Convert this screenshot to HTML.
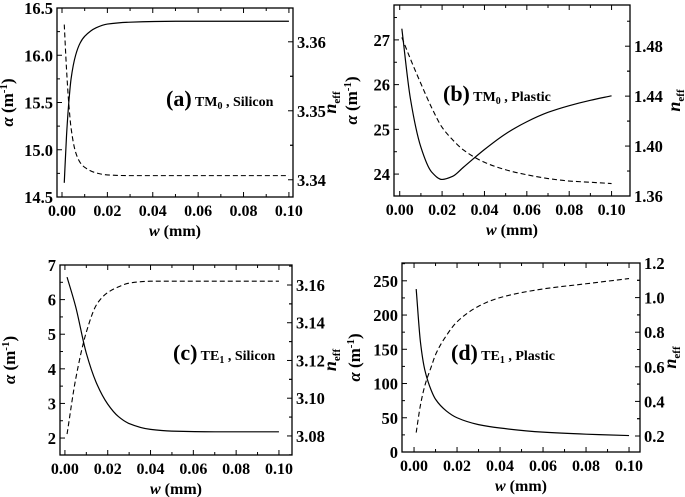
<!DOCTYPE html>
<html><head><meta charset="utf-8"><style>
html,body{margin:0;padding:0;background:#fff;}
svg{display:block;font-family:"Liberation Serif",serif;font-weight:bold;}
</style></head><body>
<svg id="fig" width="685" height="497" viewBox="0 0 685 497" xmlns="http://www.w3.org/2000/svg"></svg>
<script>
// Panel (a) TM0 Silicon
const aW=[0.001,0.002,0.003,0.004,0.006,0.008,0.01,0.015,0.02,0.03,0.05,0.07,0.1];
const aAlpha=[14.65,15.15,15.5,15.75,16.0,16.13,16.2,16.29,16.33,16.35,16.36,16.36,16.36];
const aNeff=[3.3625,3.356,3.351,3.3475,3.344,3.3425,3.3418,3.341,3.3407,3.3406,3.3406,3.3406,3.3406];
// Panel (b) TM0 Plastic
const bW=[0.001,0.005,0.01,0.015,0.02,0.025,0.03,0.04,0.05,0.06,0.07,0.08,0.09,0.1];
const bAlpha=[27.25,25.7,24.6,24.05,23.88,23.95,24.15,24.55,24.9,25.17,25.38,25.53,25.65,25.75];
const bNeff=[1.487,1.47,1.45,1.431,1.415,1.405,1.397,1.387,1.381,1.377,1.374,1.372,1.371,1.370];
// Panel (c) TE1 Silicon
const cW=[0.001,0.005,0.01,0.015,0.02,0.025,0.03,0.04,0.05,0.07,0.1];
const cAlpha=[6.65,5.8,4.45,3.55,2.98,2.62,2.42,2.25,2.2,2.18,2.18];
const cNeff=[3.081,3.11,3.135,3.15,3.156,3.159,3.161,3.162,3.162,3.162,3.162];
// Panel (d) TE1 Plastic
const dW=[0.001,0.003,0.005,0.008,0.01,0.015,0.02,0.03,0.04,0.06,0.08,0.1];
const dAlpha=[238,160,120,90,77,60,50,40,35,29,26,24];
const dNeff=[0.22,0.38,0.49,0.6,0.67,0.78,0.86,0.95,1.0,1.05,1.08,1.11];
// tick labels
const xTicks=[0,0.02,0.04,0.06,0.08,0.1];
const xTickLabels=["0.00","0.02","0.04","0.06","0.08","0.10"];
const aLT=[14.5,15.0,15.5,16.0,16.5], aLL=["14.5","15.0","15.5","16.0","16.5"];
const aRT=[3.34,3.35,3.36], aRL=["3.34","3.35","3.36"];
const bLT=[24,25,26,27], bLL=["24","25","26","27"];
const bRT=[1.36,1.40,1.44,1.48], bRL=["1.36","1.40","1.44","1.48"];
const cLT=[2,3,4,5,6,7], cLL=["2","3","4","5","6","7"];
const cRT=[3.08,3.10,3.12,3.14,3.16], cRL=["3.08","3.10","3.12","3.14","3.16"];
const dLT=[0,50,100,150,200,250], dLL=["0","50","100","150","200","250"];
const dRT=[0.2,0.4,0.6,0.8,1.0,1.2], dRL=["0.2","0.4","0.6","0.8","1.0","1.2"];

const NS="http://www.w3.org/2000/svg";
const svg=document.getElementById('fig');
function mk(tag,attrs,parent){const e=document.createElementNS(NS,tag);for(const k in attrs)e.setAttribute(k,attrs[k]);(parent||svg).appendChild(e);return e;}
function lin(d0,d1,r0,r1){return v=>r0+(v-d0)*(r1-r0)/(d1-d0);}
function smooth(p){const n=p.length,dx=[],m=[],t=new Array(n);
 for(let i=0;i<n-1;i++){dx.push(p[i+1][0]-p[i][0]);m.push((p[i+1][1]-p[i][1])/dx[i]);}
 t[0]=m[0];t[n-1]=m[n-2];
 for(let i=1;i<n-1;i++){if(m[i-1]*m[i]<=0)t[i]=0;else{const w1=2*dx[i]+dx[i-1],w2=dx[i]+2*dx[i-1];t[i]=(w1+w2)/(w1/m[i-1]+w2/m[i]);}}
 let d="M"+p[0][0].toFixed(2)+","+p[0][1].toFixed(2);
 for(let i=0;i<n-1;i++){const h=dx[i]/3;
  d+="C"+(p[i][0]+h).toFixed(2)+","+(p[i][1]+t[i]*h).toFixed(2)+" "+(p[i+1][0]-h).toFixed(2)+","+(p[i+1][1]-t[i+1]*h).toFixed(2)+" "+p[i+1][0].toFixed(2)+","+p[i+1][1].toFixed(2);}
 return d;}
function panel(id,box,xd,yl,yr,W,A,N,lT,lL,lMinor,rT,rL,rMinor,lOff,rOff,lx,ly){
 const g=mk('g',{});
 
 
 const X=lin(xd[0],xd[1],box.l,box.r),YL=lin(yl[0],yl[1],box.b,box.t),YR=lin(yr[0],yr[1],box.b,box.t);
 const fr=mk('rect',{x:box.l,y:box.t,width:box.r-box.l,height:box.b-box.t,fill:'none',stroke:'#000','stroke-width':1.3},g);
 
 
 xTicks.forEach((v,i)=>{const x=X(v);mk('line',{x1:x,x2:x,y1:box.b,y2:box.b-5,stroke:'#000'},g);mk('line',{x1:x,x2:x,y1:box.t,y2:box.t+5,stroke:'#000'},g);
  const t=mk('text',{x:x,y:box.b+19,'text-anchor':'middle','font-size':16},g);t.textContent=xTickLabels[i];
  
  
  if(i<xTicks.length-1){const xm=X(v+0.01);mk('line',{x1:xm,x2:xm,y1:box.b,y2:box.b-3,stroke:'#000'},g);mk('line',{x1:xm,x2:xm,y1:box.t,y2:box.t+3,stroke:'#000'},g);}});
 lT.forEach((v,i)=>{const y=YL(v);mk('line',{x1:box.l,x2:box.l+5,y1:y,y2:y,stroke:'#000'},g);
  const t=mk('text',{x:box.l-4,y:y+6,'text-anchor':'end','font-size':16.5},g);t.textContent=lL[i];
  
  
  const ym=YL(v+lMinor);if(ym>box.t)mk('line',{x1:box.l,x2:box.l+3,y1:ym,y2:ym,stroke:'#000'},g);});
 rT.forEach((v,i)=>{const y=YR(v);mk('line',{x1:box.r,x2:box.r-5,y1:y,y2:y,stroke:'#000'},g);
  const t=mk('text',{x:box.r+4,y:y+6,'text-anchor':'start','font-size':16.5},g);t.textContent=rL[i];
  
  
  [v+rMinor,v-rMinor].forEach(m=>{const ym=YR(m);if(ym>box.t&&ym<box.b)mk('line',{x1:box.r,x2:box.r-3,y1:ym,y2:ym,stroke:'#000'},g);});});
 const xt=mk('text',{x:(box.l+box.r)/2,y:box.b+39,'text-anchor':'middle','font-size':16},g);
 xt.innerHTML='<tspan font-style="italic">w</tspan> (mm)';
 
 
 const cy=(box.t+box.b)/2;
 const yt=mk('text',{x:0,y:0,'text-anchor':'middle','font-size':17,transform:`translate(${box.l-lOff},${cy}) rotate(-90)`},g);
 yt.innerHTML='<tspan font-style="italic">α</tspan> (m<tspan font-size="11" dy="-6">-1</tspan><tspan dy="6">)</tspan>';
 
 
 const rt=mk('text',{x:0,y:0,'text-anchor':'middle','font-size':18,transform:`translate(${box.r+rOff},${cy}) rotate(-90)`},g);
 rt.innerHTML='<tspan font-style="italic">n</tspan><tspan font-size="11" dy="4">eff</tspan>';
 
 
 const s=mk('path',{d:smooth(W.map((w,i)=>[X(w),YL(A[i])])),fill:'none',stroke:'#000','stroke-width':1.2},g);
 
 
 const n=mk('path',{d:smooth(W.map((w,i)=>[X(w),YR(N[i])])),fill:'none',stroke:'#000','stroke-width':1.1,'stroke-dasharray':'5,3'},g);
 
 
 const an=mk('text',{x:lx,y:ly,'font-size':14},g);
 
 
 return an;}
const A1=panel('a',{l:57,r:293,t:8,b:197},[-0.0022,0.1018],[14.5,16.5],[3.3375,3.3649],aW,aAlpha,aNeff,aLT,aLL,0.25,aRT,aRL,0.005,44,43,166,106);
const A2=panel('b',{l:394,r:630,t:5,b:196},[-0.0027,0.1087],[23.51,27.78],[1.36,1.513],bW,bAlpha,bNeff,bLT,bLL,0.5,bRT,bRL,0.02,37,50,443,101);
const A3=panel('c',{l:60,r:292,t:265,b:455},[-0.0023,0.1061],[1.51,7],[3.0699,3.1706],cW,cAlpha,cNeff,cLT,cLL,0.5,cRT,cRL,0.01,45,44,173,360);
const A4=panel('d',{l:402,r:640,t:263,b:452},[-0.0056,0.1051],[0,276],[0.1075,1.2],dW,dAlpha,dNeff,dLT,dLL,25,dRT,dRL,0.1,42,36,451,360);
function setAnn(el,l,m,s,matName){el.innerHTML=`<tspan font-size="22">(${l})</tspan><tspan font-size="14"> ${m}</tspan><tspan font-size="10" dy="3">${s}</tspan><tspan font-size="14" dy="-3"> , ${matName}</tspan>`;}
setAnn(A1,'a','TM','0','Silicon');
setAnn(A2,'b','TM','0','Plastic');
setAnn(A3,'c','TE','1','Silicon');
setAnn(A4,'d','TE','1','Plastic');
</script>
</body></html>
